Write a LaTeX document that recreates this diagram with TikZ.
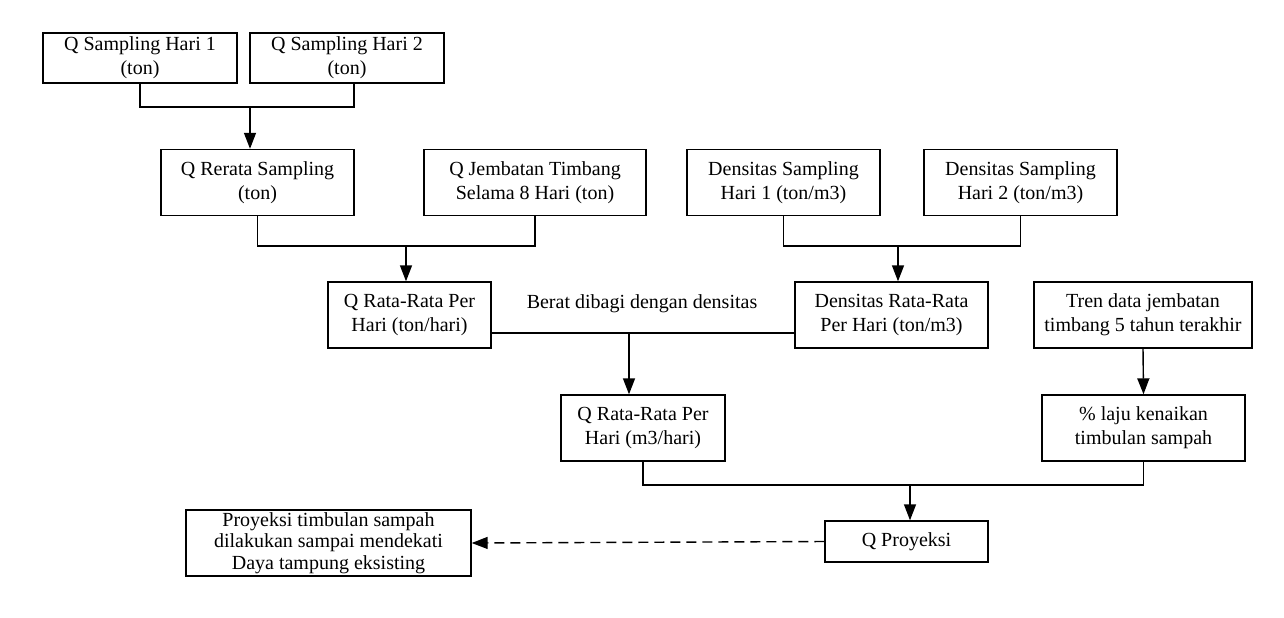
\documentclass[tikz,border=0pt]{standalone}
\usepackage{fontspec}
\setmainfont{Liberation Serif}
\usetikzlibrary{arrows.meta}

\begin{document}
\begin{tikzpicture}[x=0.5pt,y=-0.5pt,>={Triangle[length=8pt,width=6pt]},
    kotak/.style={draw,line width=0.7pt,align=center,inner sep=0pt,minimum width=96.5pt,minimum height=33pt},
    garis/.style={line width=0.7pt}]
  \useasboundingbox (0,0) rectangle (1284,617);
  % baris atas
  \node[kotak,minimum width=97pt,minimum height=25pt] (s1) at (140,58) {Q Sampling Hari 1\\(ton)};
  \node[kotak,minimum width=97pt,minimum height=25pt] (s2) at (347,58) {Q Sampling Hari 2\\(ton)};
  \node[kotak] (rr) at (257.5,182.5) {Q Rerata Sampling\\(ton)};
  \node[kotak,minimum width=111pt] (jt) at (535,182.5) {Q Jembatan Timbang\\Selama 8 Hari (ton)};
  \node[kotak] (d1) at (783.5,182.5) {Densitas Sampling\\Hari 1 (ton/m3)};
  \node[kotak] (d2) at (1020.5,182.5) {Densitas Sampling\\Hari 2 (ton/m3)};
  % rata-rata
  \node[kotak,minimum width=81.5pt] (qt) at (409.5,315) {Q Rata-Rata Per\\Hari (ton/hari)};
  \node[kotak] (dr) at (891.5,315) {Densitas Rata-Rata\\Per Hari (ton/m3)};
  \node[kotak,minimum width=109pt] (tr) at (1143,315) {Tren data jembatan\\timbang 5 tahun terakhir};
  \node (lbl) at (642,304) {Berat dibagi dengan densitas};
  \node[kotak,minimum width=82pt] (qm) at (643,428) {Q Rata-Rata Per\\Hari (m3/hari)};
  \node[kotak,minimum width=101.5pt] (lj) at (1143.5,428) {\% laju kenaikan\\timbulan sampah};
  % proyeksi
  \node[kotak,minimum width=81.5pt,minimum height=20.5pt] (qp) at (906.5,541.5) {Q Proyeksi};
  \node[kotak,minimum width=142.5pt,font=\fontsize{10}{10.8}\selectfont] (pr) at (328.5,543) {Proyeksi timbulan sampah\\dilakukan sampai mendekati\\Daya tampung eksisting};

  \coordinate (j1) at (250,107);
  \coordinate (j2) at (406,246);
  \coordinate (j3) at (898,246);
  \coordinate (j4) at (629,333);
  \coordinate (j5) at (910,485);

  \draw[garis] (s1.south) |- (j1) -| ([xshift=3.5pt]s2.south);
  \draw[garis,->] (j1) -- (j1 |- rr.north);
  \draw[garis] (rr.south) |- (j2) -| (jt.south);
  \draw[garis,->] (j2) -- (j2 |- qt.north);
  \draw[garis] (d1.south) |- (j3) -| (d2.south);
  \draw[garis,->] (j3) -- (j3 |- dr.north);
  \draw[garis] (qt.east |- j4) -- (dr.west |- j4);
  \draw[garis,->] (j4) -- (j4 |- qm.north);
  \draw[garis,->] (tr.south) -- (lj.north);
  \draw[garis] (qm.south) |- (j5) -| (lj.south);
  \draw[garis,->] (j5) -- (j5 |- qp.north);
  \draw[garis,->,dash pattern=on 5pt off 3pt] (qp.west) -- (pr.east);
\end{tikzpicture}
\end{document}
